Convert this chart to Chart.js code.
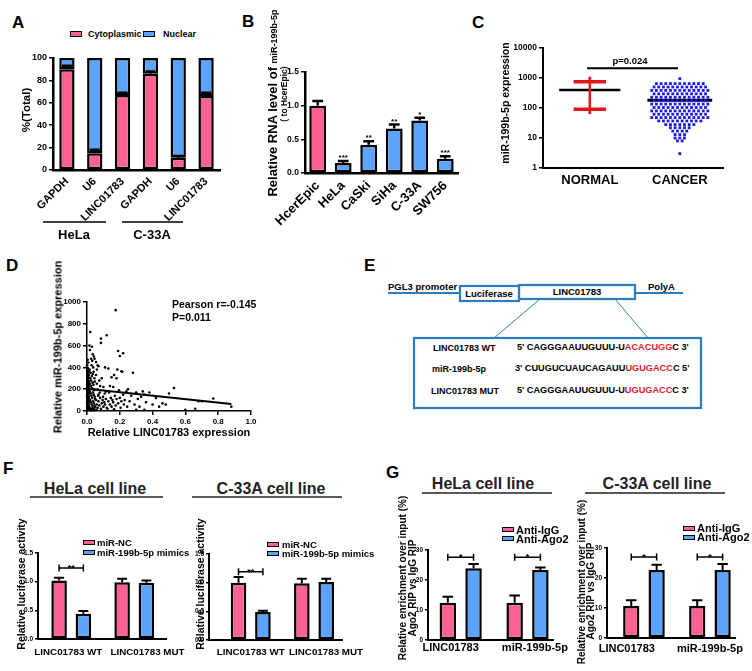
<!DOCTYPE html>
<html>
<head>
<meta charset="utf-8">
<script src="https://cdn.jsdelivr.net/npm/chart.js@4.4.1/dist/chart.umd.min.js"></script>
<style>
  html, body { margin: 0; padding: 0; background: #fff; }
  #fig { position: relative; width: 752px; height: 671px; overflow: hidden; font-family: 'Liberation Sans', Arial, sans-serif; font-weight: bold; color: #000; }
  #fig canvas, #fig svg { position: absolute; left: 0; top: 0; }
  .t { position: absolute; white-space: nowrap; line-height: 1; }
  .sw { position: absolute; box-sizing: border-box; border: 1.5px solid #000; }
  .red { color: #e3222b; }
</style>
</head>
<body>
<div id="fig"></div>
<script>
const FONT = "'Liberation Sans', Arial, sans-serif";
const PINK = '#ff6192', BLUE = '#5ba3fb', DOT = '#1c1ce8', RED = '#e8141c', LINE = '#2c7cc0';

// A: cytoplasmic / nuclear fractions (%)
const aCats = ['GAPDH', 'U6', 'LINC01783', 'GAPDH', 'U6', 'LINC01783'];
const aCyto = [90, 15, 67, 86, 11, 66];
const aCytoErr = [3, 3, 2, 2, 1.5, 3];
const aNuc = [10, 85, 33, 14, 89, 34];
const aGroups = ['HeLa', 'C-33A'];

// B: miR-199b-5p relative to HcerEpic
const bCats = ['HcerEpic', 'HeLa', 'CaSki', 'SiHa', 'C-33A', 'SW756'];
const bVals = [1.0, 0.15, 0.42, 0.66, 0.78, 0.21];
const bErr = [0.07, 0.03, 0.05, 0.06, 0.04, 0.04];
const bStars = ['', '***', '**', '**', '*', '***'];

// C: expression, normal vs cancer (log axis); cancer given as value rows and point counts per row
const cCats = ['NORMAL', 'CANCER'];
const cTicks = [1, 10, 100, 1000, 10000];
const cancerLevels = [3, 8, 10, 13, 17, 22, 28, 37, 48, 62, 80, 104, 135, 175, 228, 296, 385, 500, 650, 950];
const cancerCounts = [1, 2, 3, 3, 4, 5, 7, 10, 13, 12, 13, 12, 13, 12, 13, 12, 13, 12, 11, 1];
const cancerMean = 180;
const normalPoints = [1000, 70];
const normalMean = 400;
const normalSD = [90, 750];
const cPLineY = 2100;
const cPText = 'p=0.024';

// D: correlation scatter
const dPoints = [
  [0.002,10],[0.004,25],[0.001,40],[0.006,55],[0.003,70],[0.008,85],[0.002,100],[0.005,115],[0.009,130],[0.001,145],
  [0.004,160],[0.007,175],[0.002,190],[0.01,205],[0.005,220],[0.003,235],[0.008,250],[0.001,265],[0.006,280],[0.004,295],
  [0.009,310],[0.002,330],[0.007,350],[0.003,370],[0.005,395],[0.001,420],[0.008,445],[0.004,470],[0.002,5],[0.011,20],
  [0.012,45],[0.01,65],[0.011,90],[0.012,110],[0.01,140],[0.011,165],[0.012,185],[0.01,215],[0.011,240],[0.012,270],
  [0.01,300],[0.011,330],[0.012,365],[0.009,30],[0.007,60],[0.006,95],[0.009,125],[0.006,150],[0.008,200],[0.007,230],
  [0.009,260],[0.006,320],[0.003,15],[0.005,50],[0.001,80],[0.004,105],[0.008,155],[0.003,180],[0.005,285],[0.001,340],
  [0.015,600],[0.02,725],[0.018,560],[0.025,480],[0.03,590],[0.035,520],[0.016,380],[0.022,350],[0.028,420],[0.032,460],
  [0.038,400],[0.042,500],[0.046,480],[0.02,300],[0.025,280],[0.03,320],[0.035,340],[0.04,360],[0.045,300],[0.018,250],
  [0.024,230],[0.029,210],[0.034,260],[0.039,240],[0.044,200],[0.048,270],[0.017,180],[0.022,160],[0.027,140],[0.031,120],
  [0.036,170],[0.041,150],[0.047,130],[0.019,100],[0.023,80],[0.028,60],[0.033,40],[0.037,90],[0.042,70],[0.046,50],
  [0.016,30],[0.021,15],[0.026,5],[0.031,20],[0.036,10],[0.04,25],[0.045,8],[0.05,35],[0.049,110],[0.043,190],
  [0.055,450],[0.06,380],[0.065,420],[0.07,410],[0.085,665],[0.085,625],[0.12,695],[0.055,330],[0.06,250],[0.065,200],
  [0.07,150],[0.075,280],[0.08,230],[0.09,300],[0.1,220],[0.11,400],[0.115,180],[0.055,100],[0.06,60],[0.065,30],
  [0.07,90],[0.075,50],[0.08,120],[0.085,20],[0.09,70],[0.095,100],[0.1,40],[0.105,80],[0.11,60],[0.115,110],
  [0.12,30],[0.058,10],[0.068,140],[0.078,170],[0.098,130],[0.108,160],
  [0.13,390],[0.14,230],[0.15,310],[0.16,220],[0.165,330],[0.175,925],[0.18,300],[0.185,380],[0.19,550],[0.2,505],
  [0.21,365],[0.22,530],[0.215,360],[0.13,90],[0.14,60],[0.145,120],[0.15,40],[0.155,100],[0.16,80],[0.17,140],
  [0.175,50],[0.18,110],[0.19,70],[0.195,190],[0.2,120],[0.205,30],[0.21,90],[0.22,150],[0.225,60],[0.23,100],
  [0.24,180],[0.245,40],[0.135,170],[0.125,20],[0.165,15],
  [0.28,350],[0.26,90],[0.27,140],[0.29,60],[0.3,170],[0.31,110],[0.32,40],[0.33,130],[0.34,180],[0.35,150],
  [0.36,80],[0.38,170],[0.4,60],[0.42,120],[0.44,40],[0.46,70],[0.48,60],[0.35,10],[0.25,200],[0.3,10],
  [0.53,210],[0.5,160],[0.6,10],[0.68,90],[0.7,90],[0.77,115],[0.88,40],[0.66,20]
];
const dFit = [[0, 205], [0.88, 65]];
const dStats = ['Pearson r=-0.145', 'P=0.011'];

// F: luciferase reporter
const fCats = ['LINC01783 WT', 'LINC01783 MUT'];
const fHelaNC = [1.02, 0.99], fHelaNCErr = [0.05, 0.06];
const fHelaMim = [0.44, 0.98], fHelaMimErr = [0.05, 0.04];
const fC33NC = [1.0, 0.99], fC33NCErr = [0.1, 0.08];
const fC33Mim = [0.49, 1.01], fC33MimErr = [0.02, 0.06];
const fHelaSig = 1.24, fC33Sig = 1.19;
const fLegend = ['miR-NC', 'miR-199b-5p mimics'];

// G: RIP enrichment
const gCats = ['LINC01783', 'miR-199b-5p'];
const gHelaIgG = [12.4, 12.4], gHelaIgGErr = [2.0, 2.4];
const gHelaAgo = [23.9, 23.3], gHelaAgoErr = [1.4, 0.9];
const gC33IgG = [10.7, 10.7], gC33IgGErr = [1.9, 1.9];
const gC33Ago = [22.7, 22.7], gC33AgoErr = [1.7, 2.0];
const gHelaSig = 27.6, gC33Sig = 27.0;
const gLegend = ['Anti-IgG', 'Anti-Ago2'];

const fig = document.getElementById('fig');
const NS = 'http://www.w3.org/2000/svg';
const svg = document.createElementNS(NS, 'svg');
svg.setAttribute('width', 752); svg.setAttribute('height', 671);
fig.appendChild(svg);

function sline(x1, y1, x2, y2, color, w) {
  const l = document.createElementNS(NS, 'line');
  l.setAttribute('x1', x1); l.setAttribute('y1', y1); l.setAttribute('x2', x2); l.setAttribute('y2', y2);
  l.setAttribute('stroke', color); l.setAttribute('stroke-width', w);
  svg.appendChild(l);
}
function srect(x, y, w, h, color, sw) {
  const r = document.createElementNS(NS, 'rect');
  r.setAttribute('x', x); r.setAttribute('y', y); r.setAttribute('width', w); r.setAttribute('height', h);
  r.setAttribute('fill', 'none'); r.setAttribute('stroke', color); r.setAttribute('stroke-width', sw);
  svg.appendChild(r);
}
function txt(x, y, s, size, opt = {}) {
  const d = document.createElement('div');
  d.className = 't';
  d.style.left = x + 'px'; d.style.top = y + 'px'; d.style.fontSize = size + 'px';
  if (opt.color) d.style.color = opt.color;
  d.style.transform = opt.rot ? 'translate(-50%,-50%) rotate(-90deg)' : (opt.c ? 'translate(-50%,-50%)' : 'translateY(-50%)');
  if (opt.html) d.innerHTML = s; else d.textContent = s;
  fig.appendChild(d);
}
function swatch(x, y, w, h, color) {
  const d = document.createElement('div');
  d.className = 'sw';
  Object.assign(d.style, { left: x + 'px', top: y + 'px', width: w + 'px', height: h + 'px', background: color });
  fig.appendChild(d);
}

// error bars + stars above them
const errorBars = {
  id: 'errorBars',
  afterDatasetsDraw(chart) {
    const { ctx } = chart, ys = chart.scales.y;
    chart.data.datasets.forEach((ds, di) => {
      if (!ds.errors) return;
      chart.getDatasetMeta(di).data.forEach((bar, i) => {
        const raw = ds.data[i];
        const v = typeof raw === 'object' ? raw.y : raw;
        const top = ys.getPixelForValue(v + ds.errors[i]);
        const half = bar.width * 0.32;
        ctx.save();
        ctx.strokeStyle = '#000'; ctx.lineWidth = ds.errWidth || 2;
        ctx.beginPath();
        ctx.moveTo(bar.x, bar.y); ctx.lineTo(bar.x, top);
        ctx.moveTo(bar.x - half, top); ctx.lineTo(bar.x + half, top);
        ctx.stroke();
        if (ds.stars && ds.stars[i]) {
          ctx.fillStyle = '#000';
          ctx.font = `bold ${ds.starSize || 8}px ${FONT}`;
          ctx.textAlign = 'center'; ctx.textBaseline = 'alphabetic';
          ctx.fillText(ds.stars[i], bar.x, top - 1);
        }
        ctx.restore();
      });
    });
  }
};

// significance brackets between two bars
const sigBars = {
  id: 'sigBars',
  afterDatasetsDraw(chart, args, opts) {
    if (!opts.items) return;
    const { ctx } = chart, ys = chart.scales.y;
    opts.items.forEach(it => {
      const x1 = chart.getDatasetMeta(it.a[0]).data[it.a[1]].x;
      const x2 = chart.getDatasetMeta(it.b[0]).data[it.b[1]].x;
      const y = ys.getPixelForValue(it.y);
      ctx.save();
      ctx.strokeStyle = '#000'; ctx.lineWidth = 1.5;
      ctx.beginPath();
      ctx.moveTo(x1, y); ctx.lineTo(x2, y);
      ctx.moveTo(x1, y - 3.5); ctx.lineTo(x1, y + 3.5);
      ctx.moveTo(x2, y - 3.5); ctx.lineTo(x2, y + 3.5);
      ctx.stroke();
      ctx.fillStyle = '#000';
      ctx.font = `bold ${opts.size || 9}px ${FONT}`;
      ctx.textAlign = 'center'; ctx.textBaseline = 'alphabetic';
      ctx.fillText(it.text, (x1 + x2) / 2, y + (opts.size || 9) * 0.35);
      ctx.restore();
    });
  }
};

// place a chart so that its plot area lands on the given page rectangle
function place(area, pad, config) {
  const c = document.createElement('canvas');
  const w = area.r - area.l + pad.l + pad.r, h = area.b - area.t + pad.t + pad.b;
  c.width = w; c.height = h;
  c.style.left = (area.l - pad.l) + 'px'; c.style.top = (area.t - pad.t) + 'px';
  c.style.width = w + 'px'; c.style.height = h + 'px';
  fig.appendChild(c);
  const o = config.options;
  o.responsive = false; o.animation = false; o.devicePixelRatio = 1;
  o.layout = { padding: { top: pad.t, right: pad.r, left: 0, bottom: 0 } };
  o.plugins = Object.assign({ legend: { display: false }, tooltip: { enabled: false } }, o.plugins || {});
  o.scales.x.afterFit = s => { s.height = pad.b; };
  o.scales.y.afterFit = s => { s.width = pad.l; };
  config.plugins = [errorBars, sigBars];
  return new Chart(c, config);
}

function yAxis(o) {
  const ax = {
    type: o.type || 'linear', min: o.min, max: o.max,
    border: { display: true, color: '#000', width: o.bw || 2 },
    grid: { drawOnChartArea: false, drawTicks: true, tickLength: o.tl || 4, color: '#000', lineWidth: o.gw || 1.5 },
    ticks: { color: '#000', padding: 2, font: { size: o.fs, weight: 'bold', family: FONT }, callback: o.cb },
  };
  if (o.step) ax.ticks.stepSize = o.step;
  if (o.ticks) ax.afterBuildTicks = s => { s.ticks = o.ticks.map(v => ({ value: v })); };
  return ax;
}
function xCat(fs, pad, rot, bw) {
  return {
    grid: { display: false, drawTicks: false }, border: { display: true, color: '#000', width: bw || 2 },
    ticks: { autoSkip: false, minRotation: rot, maxRotation: rot, padding: pad, color: '#000', font: { size: fs, weight: 'bold', family: FONT } },
  };
}
// linear x axis for grouped bars; labelAt gives where each category name sits
function xLin(min, max, cats, labelAt, fs, pad, bw) {
  return {
    type: 'linear', min, max, offset: false,
    grid: { display: false, drawTicks: false }, border: { display: true, color: '#000', width: bw || 2 },
    afterBuildTicks: s => { s.ticks = labelAt.map(v => ({ value: v })); },
    ticks: { autoSkip: false, maxRotation: 0, minRotation: 0, padding: pad, color: '#000', font: { size: fs, weight: 'bold', family: FONT },
      callback: (v, i) => cats[i] },
  };
}
const toXY = arr => arr.map((v, i) => ({ x: i + 1, y: v }));
const barStyle = (color, bp, cp) => ({ backgroundColor: color, borderColor: '#000', borderWidth: 2.5, borderSkipped: false, barPercentage: bp, categoryPercentage: cp });

// ---------- A ----------
place({ l: 53, t: 58, r: 220, b: 170 }, { l: 40, t: 8, r: 6, b: 62 }, {
  type: 'bar',
  data: { labels: aCats, datasets: [
    Object.assign({ data: aCyto, errors: aCytoErr, errWidth: 2.5 }, barStyle(PINK, 0.55, 1)),
    Object.assign({ data: aNuc }, barStyle(BLUE, 0.55, 1)),
  ] },
  options: { scales: {
    x: Object.assign(xCat(11, 5, 45, 2.5), { stacked: true }),
    y: Object.assign(yAxis({ min: 0, max: 100, step: 20, fs: 9, bw: 2.5, cb: v => v }), { stacked: true }),
  } }
});

// ---------- B ----------
place({ l: 304, t: 72, r: 458, b: 173 }, { l: 34, t: 8, r: 6, b: 70 }, {
  type: 'bar',
  data: { labels: bCats, datasets: [
    Object.assign({ data: bVals, errors: bErr, errWidth: 2.5, stars: bStars, starSize: 8 },
      barStyle(bVals.map((_, i) => i === 0 ? PINK : BLUE), 0.66, 1)),
  ] },
  options: { scales: {
    x: xCat(13, 5, 45, 2.5),
    y: yAxis({ min: 0, max: 1.5, step: 0.5, fs: 8.5, bw: 2.5, cb: v => v.toFixed(1) }),
  } }
});

// ---------- C ----------
const cStep = 0.052;
const cancerPts = [];
cancerLevels.forEach((lv, r) => {
  const n = cancerCounts[r];
  for (let i = 0; i < n; i++) cancerPts.push({ x: 2 + (i - (n - 1) / 2) * cStep, y: lv });
});
const seg = (x1, x2, y1, y2, color, w) => ({ data: [{ x: x1, y: y1 }, { x: x2, y: y2 }], showLine: true, borderColor: color, borderWidth: w, pointRadius: 0 });
place({ l: 543, t: 48, r: 723, b: 168 }, { l: 40, t: 8, r: 8, b: 26 }, {
  type: 'scatter',
  data: { datasets: [
    seg(1, 1, normalPoints[0], normalPoints[1], RED, 2.5),
    seg(0.82, 1.18, normalSD[1], normalSD[1], RED, 3.5),
    seg(0.82, 1.18, normalSD[0], normalSD[0], RED, 3.5),
    seg(0.66, 1.34, normalMean, normalMean, '#000', 2.5),
    { data: normalPoints.map(v => ({ x: 1, y: v })), pointRadius: 1.5, pointBackgroundColor: RED, pointBorderWidth: 0 },
    { data: cancerPts, pointStyle: 'rect', pointRadius: 2, pointBackgroundColor: DOT, pointBorderWidth: 0 },
    seg(1.64, 2.36, cancerMean, cancerMean, '#000', 3),
    seg(0.97, 1.98, cPLineY, cPLineY, '#000', 2),
  ] },
  options: { clip: false, scales: {
    x: xLin(0.48, 2.48, cCats, [1, 2], 13, 5, 2),
    y: yAxis({ type: 'logarithmic', min: 1, max: 10000, ticks: cTicks, fs: 8.5, bw: 2, cb: v => String(v) }),
  } }
});

// ---------- D ----------
place({ l: 87, t: 302, r: 251, b: 411 }, { l: 30, t: 8, r: 12, b: 16 }, {
  type: 'scatter',
  data: { datasets: [
    { data: dPoints.map(p => ({ x: p[0], y: p[1] })), pointRadius: 1.3, pointBackgroundColor: '#000', pointBorderWidth: 0 },
    { data: dFit.map(p => ({ x: p[0], y: p[1] })), showLine: true, borderColor: '#000', borderWidth: 2, pointRadius: 0 },
  ] },
  options: { clip: false, scales: {
    x: yAxis({ min: 0, max: 1, step: 0.2, fs: 8, bw: 1.5, cb: v => v.toFixed(1) }),
    y: yAxis({ min: 0, max: 1000, step: 200, fs: 8, bw: 1.5, cb: v => v }),
  } }
});

// ---------- F / G ----------
function fgChart(area, pad, cats, xr, labelAt, d1, e1, d2, e2, sigY, sigText, yo) {
  return place(area, pad, {
    type: 'bar',
    data: { datasets: [
      Object.assign({ data: toXY(d1), errors: e1 }, barStyle(PINK, 0.64, 0.77)),
      Object.assign({ data: toXY(d2), errors: e2 }, barStyle(BLUE, 0.64, 0.77)),
    ] },
    options: {
      plugins: { sigBars: { size: 9, items: sigY.map((y, i) => ({ a: [0, i], b: [1, i], y, text: sigText })) } },
      scales: { x: xLin(xr[0], xr[1], cats, labelAt, yo.xfs, yo.xpad, 2), y: yAxis(yo.y) },
    }
  });
}
const fY = { min: 0, max: 1.5, step: 0.5, fs: 6.5, bw: 2, tl: 3, cb: v => v.toFixed(1) };
fgChart({ l: 38, t: 553, r: 171, b: 639 }, { l: 22, t: 6, r: 24, b: 20 }, fCats, [0.473, 2.504], [0.954, 2.21],
  fHelaNC, fHelaNCErr, fHelaMim, fHelaMimErr, [fHelaSig], '**', { xfs: 9.8, xpad: 7, y: fY });
fgChart({ l: 209, t: 554, r: 348, b: 640 }, { l: 22, t: 6, r: 24, b: 20 }, fCats, [0.341, 2.447], [1.0, 2.19],
  fC33NC, fC33NCErr, fC33Mim, fC33MimErr, [fC33Sig], '**', { xfs: 9.8, xpad: 6, y: fY });

const gY = { min: 0, max: 30, step: 10, fs: 6.5, bw: 2, tl: 3, cb: v => v };
fgChart({ l: 428, t: 550, r: 557, b: 640 }, { l: 22, t: 6, r: 14, b: 20 }, gCats, [0.511, 2.394], [0.85, 2.11],
  gHelaIgG, gHelaIgGErr, gHelaAgo, gHelaAgoErr, [gHelaSig, gHelaSig], '*', { xfs: 11, xpad: 1, y: gY });
fgChart({ l: 607, t: 548, r: 735, b: 638 }, { l: 22, t: 6, r: 16, b: 24 }, gCats, [0.44, 2.38], [0.74, 2.0],
  gC33IgG, gC33IgGErr, gC33Ago, gC33AgoErr, [gC33Sig, gC33Sig], '*', { xfs: 11, xpad: 4, y: gY });

// ---------- text, legends, decorations ----------
[['A', 12, 22], ['B', 242, 21], ['C', 472, 22], ['D', 6, 265], ['E', 364, 265], ['F', 3, 468], ['G', 386, 472]]
  .forEach(([s, x, y]) => txt(x, y, s, 17));

// A
swatch(70, 31, 12, 6, PINK); txt(88, 34, 'Cytoplasmic', 9);
swatch(143, 31, 12, 6, BLUE); txt(163, 34, 'Nuclear', 9);
txt(27, 110, '%(Total)', 11.5, { rot: true });
sline(43, 222, 106, 222, '#000', 1.5); sline(122, 222, 183, 222, '#000', 1.5);
txt(74, 234, aGroups[0], 13, { c: true }); txt(152, 234, aGroups[1], 13, { c: true });

// B
txt(272, 103, 'Relative RNA level of <span style="font-size:9px">miR-199b-5p</span>', 13, { rot: true, html: true });
txt(284, 94, '( to HcerEpic)', 8.5, { rot: true });

// C
txt(505, 103, 'miR-199b-5p expression', 10.5, { rot: true });
txt(630, 61, cPText, 9.5, { c: true });

// D
txt(58, 347, 'Relative miR-199b-5p expression', 11, { rot: true });
txt(169, 432, 'Relative LINC01783 expression', 11, { c: true });
txt(172, 304, dStats[0], 10.5); txt(172, 317, dStats[1], 10.5);

// E: reporter construct
sline(388, 293, 460, 293, LINE, 1.8);
sline(635, 293, 683, 293, LINE, 1.8);
srect(460, 286, 59, 15, LINE, 2.2);
srect(519, 285, 116, 14, LINE, 2.2);
sline(540, 299, 494, 338, LINE, 1);
sline(615, 299, 648, 338, LINE, 1);
srect(414, 338, 287, 70, LINE, 2.2);
txt(388, 287, 'PGL3 promoter', 9.5);
txt(489, 294, 'Luciferase', 9.5, { c: true });
txt(577, 292, 'LINC01783', 9.5, { c: true });
txt(648, 287, 'PolyA', 9.5);
txt(433, 348, 'LINC01783 WT', 9);
txt(432, 369, 'miR-199b-5p', 9);
txt(431, 391, 'LINC01783 MUT', 9);
txt(517, 348, "5' CAGGGAAUUGUUU-U<span class=\"red\">ACACUGG</span>C 3'", 9.2, { html: true });
txt(515, 369, "3' CUUGUCUAUCAGAUU<span class=\"red\">UGUGACC</span>C 5'", 9.2, { html: true });
txt(517, 391, "5' CAGGGAAUUGUUU-U<span class=\"red\">UGUGACC</span>C 3'", 9.2, { html: true });

// F
txt(95, 489, 'HeLa cell line', 16, { c: true, color: '#222' }); sline(30, 497, 163, 497, '#222', 1.5);
txt(271, 489, 'C-33A cell line', 16, { c: true, color: '#222' }); sline(192, 497, 342, 497, '#222', 1.5);
txt(21, 584, 'Relative luciferase activity', 10.5, { rot: true });
txt(200, 584, 'Relative luciferase activity', 10.5, { rot: true });
swatch(83, 540, 12, 5, PINK); txt(97, 543, fLegend[0], 9.5);
swatch(83, 550, 12, 5, BLUE); txt(97, 553, fLegend[1], 9.5);
swatch(267, 542, 12, 5, PINK); txt(282, 544.5, fLegend[0], 9.5);
swatch(267, 551, 12, 5, BLUE); txt(282, 553.5, fLegend[1], 9.5);

// G
txt(483, 484, 'HeLa cell line', 16, { c: true, color: '#222' }); sline(422, 493, 552, 493, '#222', 1.5);
txt(657, 484, 'C-33A cell line', 16, { c: true, color: '#222' }); sline(585, 493, 725, 493, '#222', 1.5);
txt(403, 578, 'Relative enrichment over input (%)', 10, { rot: true });
txt(413, 588, 'Ago2 RIP vs IgG RIP', 10, { rot: true });
txt(582, 582, 'Relative enrichment over input (%)', 10, { rot: true });
txt(591, 591, 'Ago2 RIP vs IgG RIP', 10, { rot: true });
swatch(502, 527, 12, 5, PINK); txt(516, 529.5, gLegend[0], 11);
swatch(502, 536, 12, 5, BLUE); txt(516, 539, gLegend[1], 11);
swatch(683, 526, 12, 5, PINK); txt(697, 528, gLegend[0], 11);
swatch(683, 535, 12, 5, BLUE); txt(697, 537, gLegend[1], 11);
</script>
</body>
</html>
